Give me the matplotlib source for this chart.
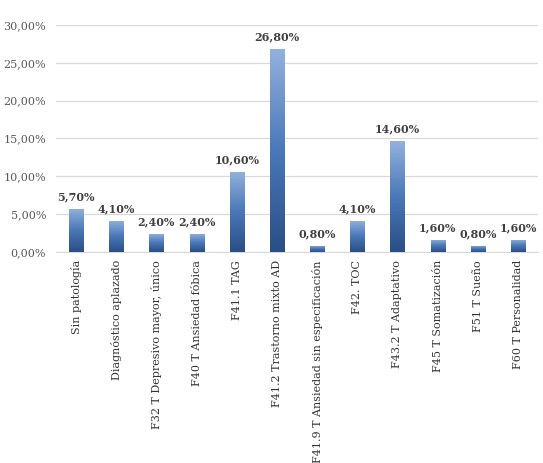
import numpy as np
import matplotlib
matplotlib.use("Agg")
import matplotlib.pyplot as plt
from matplotlib.colors import LinearSegmentedColormap
from matplotlib.ticker import FuncFormatter

categories = ["Sin patología", "Diagnóstico aplazado", "F32 T Depresivo mayor, único",
              "F40 T Ansiedad fóbica", "F41.1 TAG", "F41.2 Trastorno mixto AD",
              "F41.9 T Ansiedad sin especificación", "F42. TOC", "F43.2 T Adaptativo",
              "F45 T Somatización", "F51 T Sueño", "F60 T Personalidad"]
values = [5.7, 4.1, 2.4, 2.4, 10.6, 26.8, 0.8, 4.1, 14.6, 1.6, 0.8, 1.6]
yticks = [0, 5, 10, 15, 20, 25, 30]

plt.rcParams['font.family'] = ['DejaVu Serif']

fig = plt.figure(figsize=(5.43, 4.63), dpi=100)
ax = fig.add_axes([0.103, 0.456, 0.888, 0.49])

x = np.arange(len(categories))
bw = 0.35
bars = ax.bar(x, values, width=bw, color='none', edgecolor='none', zorder=3)
cmap = LinearSegmentedColormap.from_list('g', ['#2a4e86', '#4a78b8', '#93b1de'])
grad = np.linspace(0, 1, 256).reshape(-1, 1)
for b in bars:
    x0, y0 = b.get_x(), b.get_y()
    w, h = b.get_width(), b.get_height()
    im = ax.imshow(grad, extent=[x0, x0 + w, y0, y0 + h], origin='lower',
                   cmap=cmap, aspect='auto', zorder=3, interpolation='bilinear')
    im.set_clip_path(b)

for xi, v in zip(x, values):
    ax.text(xi, v + 0.9, f"{v:.2f}%".replace('.', ','), ha='center', va='bottom',
            fontsize=8, fontweight='bold', color='#404040', zorder=4)

ax.set_xlim(-0.5, len(categories) - 0.5)
ax.set_ylim(0, 30)
ax.set_yticks(yticks)
ax.yaxis.set_major_formatter(FuncFormatter(lambda v, p: f"{v:.2f}%".replace('.', ',')))
ax.set_xticks(x)
ax.set_xticklabels(categories, rotation=90, fontsize=8, color='#333333')
ax.tick_params(axis='y', labelsize=8, labelcolor='#595959', length=0, pad=7)
ax.tick_params(axis='x', length=0, pad=6)
ax.grid(axis='y', color='#d9d9d9', linewidth=0.9, zorder=0)
ax.set_axisbelow(True)
for s in ['top', 'right', 'left']:
    ax.spines[s].set_visible(False)
ax.spines['bottom'].set_color('#d9d9d9')

fig.savefig('out.png', dpi=100, facecolor='white')
